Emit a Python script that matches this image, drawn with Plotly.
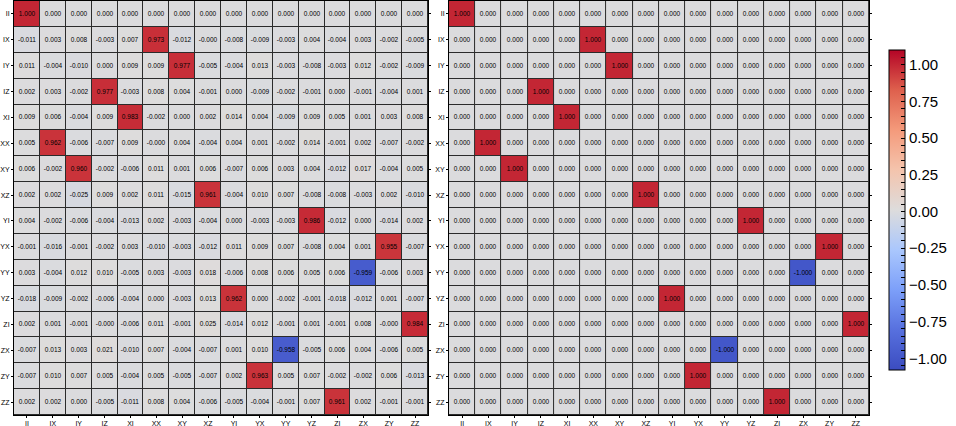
import plotly.graph_objects as go

labels = ['II', 'IX', 'IY', 'IZ', 'XI', 'XX', 'XY', 'XZ',
          'YI', 'YX', 'YY', 'YZ', 'ZI', 'ZX', 'ZY', 'ZZ']

# left matrix: measured values (rows top -> bottom)
measured = [
    [1.000, 0.000, 0.000, 0.000, 0.000, 0.000, 0.000, 0.000, 0.000, 0.000, 0.000, 0.000, 0.000, 0.000, 0.000, 0.000],
    [-0.011, 0.003, 0.008, -0.003, 0.007, 0.973, -0.012, -0.000, -0.008, -0.009, -0.003, 0.004, -0.004, 0.003, -0.002, -0.005],
    [0.011, -0.004, -0.010, 0.000, 0.009, 0.009, 0.977, -0.005, -0.004, 0.013, -0.003, -0.008, -0.003, 0.012, -0.002, -0.009],
    [0.002, 0.003, -0.002, 0.977, -0.003, 0.008, 0.004, -0.001, 0.000, -0.009, -0.002, -0.001, 0.000, -0.001, -0.004, 0.001],
    [0.009, 0.006, -0.004, 0.009, 0.983, -0.002, 0.000, 0.002, 0.014, 0.004, -0.009, 0.009, 0.005, 0.001, 0.003, 0.008],
    [0.005, 0.962, -0.006, -0.007, 0.009, -0.000, 0.004, -0.004, 0.004, 0.001, -0.002, 0.014, -0.001, 0.002, -0.007, -0.002],
    [0.006, -0.002, 0.960, -0.002, -0.006, 0.011, 0.001, 0.006, -0.007, 0.006, 0.003, 0.004, -0.012, 0.017, -0.004, 0.005],
    [0.002, 0.002, -0.025, 0.009, 0.002, 0.011, -0.015, 0.961, -0.004, 0.010, 0.007, -0.008, -0.008, -0.003, 0.002, -0.010],
    [0.004, -0.002, -0.006, -0.004, -0.013, 0.002, -0.003, -0.004, 0.000, -0.003, -0.003, 0.986, -0.012, 0.000, -0.014, 0.002],
    [-0.001, -0.016, -0.001, -0.002, 0.003, -0.010, -0.003, -0.012, 0.011, 0.009, 0.007, -0.008, 0.004, 0.001, 0.955, -0.007],
    [0.003, -0.004, 0.012, 0.010, -0.005, 0.003, -0.003, 0.018, -0.006, 0.008, 0.006, 0.005, 0.006, -0.959, -0.006, 0.003],
    [-0.018, -0.009, -0.002, -0.006, -0.004, 0.000, -0.003, 0.013, 0.962, 0.000, -0.002, -0.001, -0.018, -0.012, 0.001, -0.007],
    [0.002, 0.001, -0.001, -0.000, -0.006, 0.011, -0.001, 0.025, -0.014, 0.012, -0.001, 0.001, -0.001, 0.008, -0.000, 0.984],
    [-0.007, 0.013, 0.003, 0.021, -0.010, 0.007, -0.004, -0.007, 0.001, 0.010, -0.958, -0.005, 0.006, 0.004, -0.006, 0.005],
    [-0.007, 0.010, 0.007, 0.005, -0.004, 0.005, -0.005, -0.007, 0.002, 0.963, 0.005, 0.007, -0.002, -0.002, 0.006, -0.013],
    [0.002, 0.002, 0.000, -0.005, -0.011, 0.008, 0.004, -0.006, -0.005, -0.004, -0.001, 0.007, 0.961, 0.002, -0.001, -0.001],
]

# right matrix: ideal values (rows top -> bottom)
ideal = [
    [1, 0, 0, 0, 0, 0, 0, 0, 0, 0, 0, 0, 0, 0, 0, 0],
    [0, 0, 0, 0, 0, 1, 0, 0, 0, 0, 0, 0, 0, 0, 0, 0],
    [0, 0, 0, 0, 0, 0, 1, 0, 0, 0, 0, 0, 0, 0, 0, 0],
    [0, 0, 0, 1, 0, 0, 0, 0, 0, 0, 0, 0, 0, 0, 0, 0],
    [0, 0, 0, 0, 1, 0, 0, 0, 0, 0, 0, 0, 0, 0, 0, 0],
    [0, 1, 0, 0, 0, 0, 0, 0, 0, 0, 0, 0, 0, 0, 0, 0],
    [0, 0, 1, 0, 0, 0, 0, 0, 0, 0, 0, 0, 0, 0, 0, 0],
    [0, 0, 0, 0, 0, 0, 0, 1, 0, 0, 0, 0, 0, 0, 0, 0],
    [0, 0, 0, 0, 0, 0, 0, 0, 0, 0, 0, 1, 0, 0, 0, 0],
    [0, 0, 0, 0, 0, 0, 0, 0, 0, 0, 0, 0, 0, 0, 1, 0],
    [0, 0, 0, 0, 0, 0, 0, 0, 0, 0, 0, 0, 0, -1, 0, 0],
    [0, 0, 0, 0, 0, 0, 0, 0, 1, 0, 0, 0, 0, 0, 0, 0],
    [0, 0, 0, 0, 0, 0, 0, 0, 0, 0, 0, 0, 0, 0, 0, 1],
    [0, 0, 0, 0, 0, 0, 0, 0, 0, 0, -1, 0, 0, 0, 0, 0],
    [0, 0, 0, 0, 0, 0, 0, 0, 0, 1, 0, 0, 0, 0, 0, 0],
    [0, 0, 0, 0, 0, 0, 0, 0, 0, 0, 0, 0, 1, 0, 0, 0],
]

cbar_major = [-1.0, -0.75, -0.5, -0.25, 0.0, 0.25, 0.5, 0.75, 1.0]

coolwarm = [
    [0.0, 'rgb(59,76,192)'], [0.125, 'rgb(87,112,222)'], [0.25, 'rgb(124,159,249)'],
    [0.375, 'rgb(170,199,253)'], [0.5, 'rgb(221,220,220)'], [0.625, 'rgb(244,196,173)'],
    [0.75, 'rgb(244,154,123)'], [0.875, 'rgb(222,96,77)'], [1.0, 'rgb(180,4,38)'],
]

def fmt(m):
    return [[f"{v:.3f}" for v in row] for row in m]

# colorbar ticks every 0.05, labels only on major ones
minor_vals = [round(-1.05 + 0.05 * i, 2) for i in range(44)]
tick_text = []
for v in minor_vals:
    if any(abs(v - m) < 1e-9 for m in cbar_major):
        tick_text.append(f"{v:.2f}".replace('-', '\u2212'))
    else:
        tick_text.append('')

fig = go.Figure()
common = dict(x=labels, y=labels, colorscale=coolwarm, zmin=-1.08, zmax=1.1,
              xgap=1, ygap=1, texttemplate='%{text}',
              textfont=dict(size=6.5, color='black'))

fig.add_trace(go.Heatmap(z=measured, text=fmt(measured), showscale=False,
                         xaxis='x', yaxis='y', **common))
fig.add_trace(go.Heatmap(z=ideal, text=fmt(ideal), xaxis='x2', yaxis='y2',
                         colorbar=dict(x=0.9289, xanchor='left', xpad=0, ypad=0,
                                       y=0.495, yanchor='middle',
                                       len=320, lenmode='pixels', thickness=16,
                                       outlinecolor='black', outlinewidth=1,
                                       ticks='inside', ticklen=4, tickcolor='black',
                                       tickvals=minor_vals, ticktext=tick_text,
                                       tickfont=dict(size=15, color='black')),
                         **common))

ax = dict(showline=True, linecolor='black', linewidth=1, mirror='ticks',
          ticks='outside', ticklen=2, tickcolor='black', showgrid=False,
          tickfont=dict(size=7, color='black'), zeroline=False, automargin=False)

fig.update_layout(
    template='none',
    width=956, height=426,
    margin=dict(l=14, r=0, t=1, b=11, autoexpand=False),
    paper_bgcolor='white', plot_bgcolor='#2b2b2b',
    font=dict(family='Liberation Sans, Arial, sans-serif', color='black'),
    xaxis=dict(domain=[0, 0.4395], anchor='y', **ax),
    yaxis=dict(domain=[0, 1], anchor='x', autorange='reversed', **ax),
    xaxis2=dict(domain=[0.4618, 0.9076], anchor='y2', **ax),
    yaxis2=dict(domain=[0, 1], anchor='x2', autorange='reversed', **ax),
)

# page body margin would otherwise shift the figure by 8px
fig.write_html("out.html", config={'displayModeBar': False},
               post_script="document.body.style.margin='0';")
